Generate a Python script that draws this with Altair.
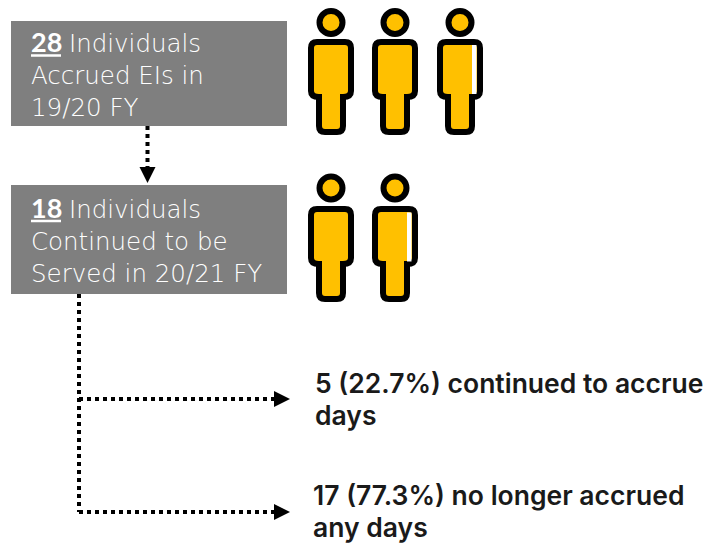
import altair as alt
import pandas as pd

GREY = "#7F7F7F"
AMBER = "#FFC000"

box_x0 = [11, 11]; box_x1 = [287, 287]; box_y0 = [21, 185]; box_y1 = [126, 294]

head_x = [331, 395, 460, 331, 395]
head_y = [22.5, 22.5, 22.5, 188, 188]
body_x = [331, 395, 460, 331, 395]
body_y = [70, 70, 70, 237, 237]

gap_x0 = [472, 407]; gap_x1 = [476.5, 411.5]; gap_y0 = [45, 212.5]; gap_y1 = [94, 261.5]

line_x0 = [147.5, 79, 79, 79]
line_y0 = [126, 294, 399, 512]
line_x1 = [147.5, 79, 275, 275]
line_y1 = [170, 512, 399, 512]

down_x = [147.5]; down_y = [175]
right_x = [282, 282]; right_y = [399, 512]

ul_x0 = [31, 31]; ul_x1 = [61, 61]; ul_y = [55.5, 221]

bold_text = ["28", "18"]
bold_x = [31, 31]; bold_y = [52, 218]

light_text = ["Individuals", "Accrued EIs in", "19/20 FY", "Individuals", "Continued to be", "Served in 20/21 FY"]
light_x = [69, 31, 31, 69, 31, 31]
light_y = [52, 84, 116, 218, 250, 282]

note_text = ["5 (22.7%) continued to accrue", "days", "17 (77.3%) no longer accrued", "any days"]
note_x = [315, 315, 313, 313]
note_y = [393, 425, 505, 537]

X = alt.Scale(domain=[8, 715])
Y = alt.Scale(domain=[547, 8])
nx = alt.X("x:Q", scale=X, axis=None)
ny = alt.Y("y:Q", scale=Y, axis=None)

BODY = ("M-0.2333,-0.4667 L0.2333,-0.4667 Q0.3333,-0.4667 0.3333,-0.3667 L0.3333,0.35 "
        "Q0.3333,0.45 0.2,0.45 L0.2,0.9333 Q0.2,1.0333 0.1,1.0333 L-0.1,1.0333 "
        "Q-0.2,1.0333 -0.2,0.9333 L-0.2,0.45 Q-0.3333,0.45 -0.3333,0.35 L-0.3333,-0.3667 "
        "Q-0.3333,-0.4667 -0.2333,-0.4667 Z")

boxes = alt.Chart(pd.DataFrame({"x": box_x0, "x2": box_x1, "y": box_y0, "y2": box_y1})).mark_rect(
    color=GREY).encode(x=nx, x2="x2:Q", y=ny, y2="y2:Q")

heads = alt.Chart(pd.DataFrame({"x": head_x, "y": head_y})).mark_point(
    shape="circle", filled=True, fill=AMBER, stroke="black", strokeWidth=6, size=529, opacity=1
).encode(x=nx, y=ny)

bodies = alt.Chart(pd.DataFrame({"x": body_x, "y": body_y})).mark_point(
    shape=BODY, filled=True, fill=AMBER, stroke="black", strokeWidth=6, size=14400, opacity=1
).encode(x=nx, y=ny)

gaps = alt.Chart(pd.DataFrame({"x": gap_x0, "x2": gap_x1, "y": gap_y0, "y2": gap_y1})).mark_rect(
    color="white").encode(x=nx, x2="x2:Q", y=ny, y2="y2:Q")

lines = alt.Chart(pd.DataFrame({"x": line_x0, "x2": line_x1, "y": line_y0, "y2": line_y1})).mark_rule(
    color="black", strokeWidth=4, strokeDash=[4, 4]).encode(x=nx, x2="x2:Q", y=ny, y2="y2:Q")

arrow_down = alt.Chart(pd.DataFrame({"x": down_x, "y": down_y})).mark_point(
    shape="M-1,-1 L1,-1 L0,1 Z", filled=True, color="black", size=256, opacity=1).encode(x=nx, y=ny)

arrow_right = alt.Chart(pd.DataFrame({"x": right_x, "y": right_y})).mark_point(
    shape="M-1,-1 L1,0 L-1,1 Z", filled=True, color="black", size=256, opacity=1).encode(x=nx, y=ny)

underline = alt.Chart(pd.DataFrame({"x": ul_x0, "x2": ul_x1, "y": ul_y})).mark_rule(
    color="white", strokeWidth=2.5).encode(x=nx, x2="x2:Q", y=ny)

bold = alt.Chart(pd.DataFrame({"x": bold_x, "y": bold_y, "t": bold_text})).mark_text(
    align="left", baseline="alphabetic", font="Lato", fontSize=27, fontWeight="bold", color="white"
).encode(x=nx, y=ny, text="t:N")

light = alt.Chart(pd.DataFrame({"x": light_x, "y": light_y, "t": light_text})).mark_text(
    align="left", baseline="alphabetic", font="DejaVu Sans", fontSize=24.5, fontWeight=200, color="white"
).encode(x=nx, y=ny, text="t:N")

notes = alt.Chart(pd.DataFrame({"x": note_x, "y": note_y, "t": note_text})).mark_text(
    align="left", baseline="alphabetic", font="Inter", fontSize=26.5, fontWeight=600, color="#1a1a1a"
).encode(x=nx, y=ny, text="t:N")

chart = alt.layer(
    boxes, lines, arrow_down, arrow_right, heads, bodies, gaps, underline, bold, light, notes
).properties(width=707, height=539, padding=0, background="white",
             autosize=alt.AutoSizeParams(type="none")).configure_view(stroke=None)

chart.save("out.html", embed_options={"renderer": "svg", "actions": False})
